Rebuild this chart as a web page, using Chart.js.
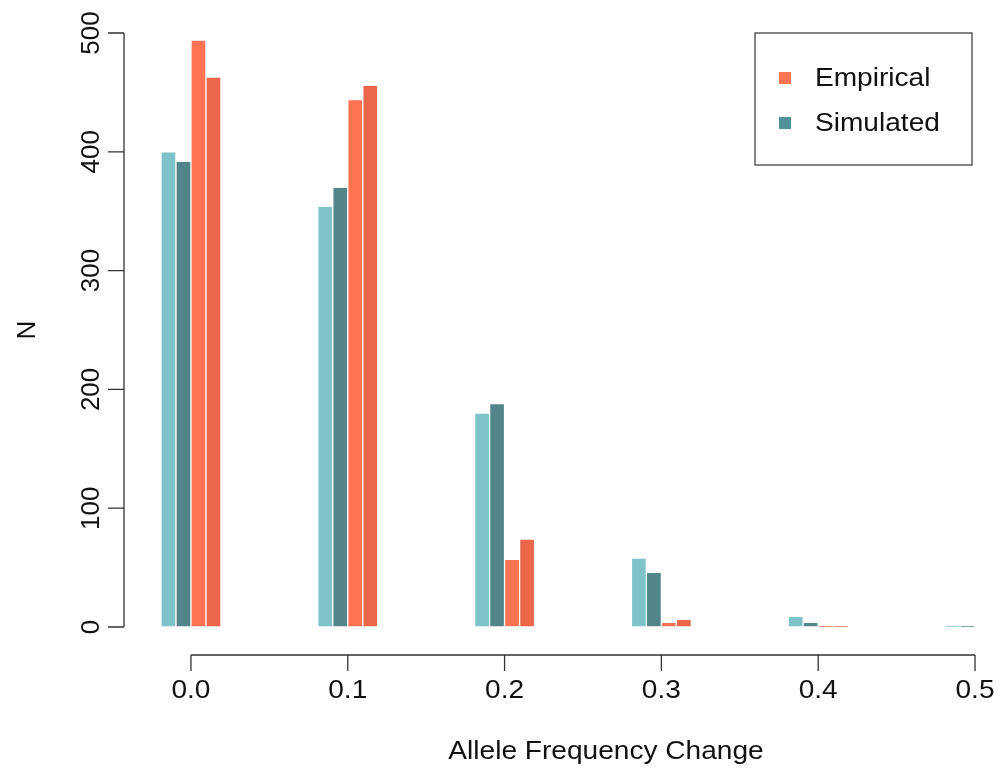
<!DOCTYPE html>
<html>
<head>
<meta charset="utf-8">
<script src="https://cdn.jsdelivr.net/npm/chart.js@4.4.0/dist/chart.umd.min.js"></script>
<style>
  html, body { margin: 0; padding: 0; background: #fff; }
  #wrap { width: 999px; height: 778px; }
</style>
</head>
<body>
<div id="wrap"><canvas id="chart"></canvas></div>
<script>
// Histogram bins (allele frequency change)
const bins = [0.0, 0.1, 0.2, 0.3, 0.4, 0.5];
const xTickLabels = ['0.0', '0.1', '0.2', '0.3', '0.4', '0.5'];
const yTicks = [0, 100, 200, 300, 400, 500];

// Counts per bin
const simulatedA = [400, 354, 180, 58, 9, 1];
const simulatedB = [392, 370, 188, 46, 4, 0.5];
const empiricalA = [494, 444, 57, 4, 0.5, 0];
const empiricalB = [463, 456, 74, 6.5, 1, 0];

const legendItems = [
    { label: 'Empirical', color: '#FF7452' },
    { label: 'Simulated', color: '#4F9398' }
];

const FONT = '"Liberation Sans", Arial, Helvetica, sans-serif';

function points(values) {
    return values.map((v, i) => ({ x: bins[i], y: v }));
}

function barSet(label, values, color) {
    return {
        label: label,
        data: points(values),
        backgroundColor: color,
        borderColor: 'rgba(255,255,255,0.7)',
        borderWidth: 1,
        borderSkipped: false,
        barThickness: 15,
        grouped: true
    };
}

// horizontal text is a little wider than tall in the original
function wideText(ctx, text, x, y, align) {
    const sx = 1.08;
    ctx.save();
    ctx.translate(x, y);
    ctx.scale(sx, 1);
    ctx.textAlign = align;
    ctx.fillText(text, 0, 0);
    ctx.restore();
}

// R style axes and legend, drawn from the scales
const rAxes = {
    id: 'rAxes',
    afterDraw(chart) {
        const ctx = chart.ctx;
        const xs = chart.scales.x;
        const ys = chart.scales.y;
        ctx.save();
        ctx.strokeStyle = '#333';
        ctx.lineWidth = 1.3;
        ctx.fillStyle = '#111';

        // y axis
        const yAxisX = 124;
        ctx.beginPath();
        ctx.moveTo(yAxisX, ys.getPixelForValue(yTicks[0]));
        ctx.lineTo(yAxisX, ys.getPixelForValue(yTicks[yTicks.length - 1]));
        yTicks.forEach(t => {
            const py = ys.getPixelForValue(t);
            ctx.moveTo(yAxisX, py);
            ctx.lineTo(yAxisX - 16, py);
        });
        ctx.stroke();

        ctx.font = '26px ' + FONT;
        ctx.textAlign = 'center';
        ctx.textBaseline = 'middle';
        yTicks.forEach(t => {
            const py = ys.getPixelForValue(t);
            ctx.save();
            ctx.translate(92, py);
            ctx.rotate(-Math.PI / 2);
            ctx.fillText(String(t), 0, 0);
            ctx.restore();
        });
        ctx.save();
        ctx.translate(28, (ys.top + ys.bottom) / 2);
        ctx.rotate(-Math.PI / 2);
        ctx.fillText('N', 0, 0);
        ctx.restore();

        // x axis
        const xAxisY = 655;
        ctx.beginPath();
        ctx.moveTo(xs.getPixelForValue(bins[0]), xAxisY);
        ctx.lineTo(xs.getPixelForValue(bins[bins.length - 1]), xAxisY);
        bins.forEach(b => {
            const px = xs.getPixelForValue(b);
            ctx.moveTo(px, xAxisY);
            ctx.lineTo(px, xAxisY + 16);
        });
        ctx.stroke();
        bins.forEach((b, i) => {
            wideText(ctx, xTickLabels[i], xs.getPixelForValue(b), 691, 'center');
        });
        wideText(ctx, 'Allele Frequency Change', 606, 752, 'center');

        // legend box
        ctx.strokeStyle = '#444';
        ctx.lineWidth = 1.3;
        ctx.strokeRect(755, 33, 217, 132);
        legendItems.forEach((item, i) => {
            const cy = 78 + i * 45;
            ctx.fillStyle = item.color;
            ctx.fillRect(779, cy - 6, 12, 12);
            ctx.fillStyle = '#111';
            wideText(ctx, item.label, 815, cy + 1, 'left');
        });
        ctx.restore();
    }
};

const ctx = document.getElementById('chart').getContext('2d');
new Chart(ctx, {
    type: 'bar',
    data: {
        datasets: [
            barSet('Simulated 1', simulatedA, '#7DC3C9'),
            barSet('Simulated 2', simulatedB, '#52858A'),
            barSet('Empirical 1', empiricalA, '#FF7252'),
            barSet('Empirical 2', empiricalB, '#EC664B')
        ]
    },
    options: {
        responsive: true,
        maintainAspectRatio: false,
        animation: false,
        layout: { padding: { left: 124, top: 33, right: 0, bottom: 151 } },
        scales: {
            x: {
                type: 'linear',
                display: false,
                min: -0.0427,
                max: 0.5153,
                offset: false
            },
            y: {
                display: false,
                min: 0,
                max: 500
            }
        },
        plugins: {
            legend: { display: false },
            tooltip: { enabled: false }
        }
    },
    plugins: [rAxes]
});
</script>
</body>
</html>
